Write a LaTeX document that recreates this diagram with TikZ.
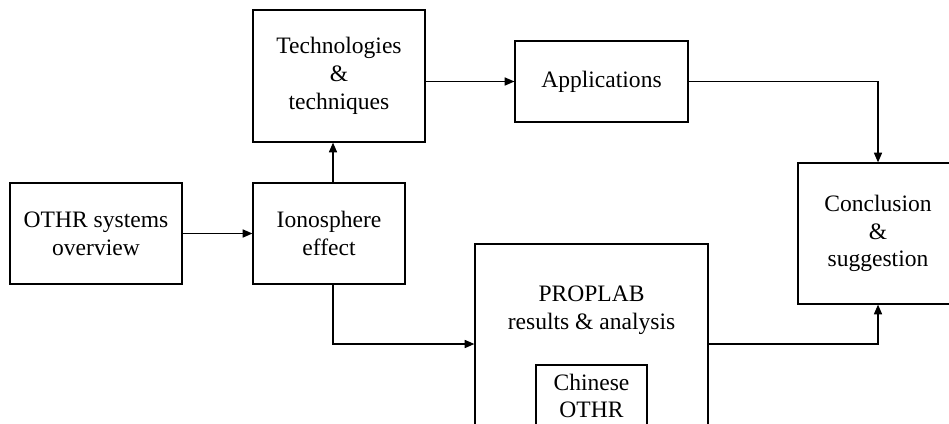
\documentclass[tikz,border=0pt]{standalone}
\usepackage{fontspec}
\setmainfont{Liberation Serif}
\usetikzlibrary{arrows.meta}

\tikzset{
  box/.style={draw, line width=0.7pt, align=center, inner sep=0pt,
              font=\fontsize{13.4}{15.8}\selectfont},
  arr/.style={line width=0.7pt, -{Triangle[length=5.5pt,width=4.6pt]}}
}

\begin{document}
\begin{tikzpicture}[x=0.02cm, y=-0.02cm]
      \useasboundingbox (0,0) rectangle (949,423);
      \clip (0,0) rectangle (949,423);

      \node[box, minimum width=172*0.02cm, minimum height=101*0.02cm] (O) at (96,233.5)   {OTHR systems\\overview};
      \node[box, minimum width=152*0.02cm, minimum height=101*0.02cm] (I) at (329,233.5)  {Ionosphere\\effect};
      \node[box, minimum width=172*0.02cm, minimum height=132*0.02cm] (T) at (339,76)     {Technologies\\\&\\techniques};
      \node[box, minimum width=173*0.02cm, minimum height=81*0.02cm]  (A) at (601.5,81.5) {Applications};
      \node[box, minimum width=160*0.02cm, minimum height=141*0.02cm] (C) at (878,233.5)  {Conclusion\\\&\\suggestion};
      \node[box, minimum width=233*0.02cm, minimum height=200*0.02cm] (P) at (591.5,344)  {};
      \node[box, draw=none] (PT) at (591.5,310) {PROPLAB\\results \& analysis};
      \node[box, minimum width=111*0.02cm, minimum height=62*0.02cm]  (X) at (591.5,396)  {Chinese\\OTHR};

      \path (O) edge[arr] (I);
      \path ([xshift=4*0.02cm]I.north) edge[arr] ([xshift=4*0.02cm]I.north |- T.south);
      \path (T.east |- A) edge[arr] (A);
      \draw[arr] (A) -| (C);
      \draw[arr] ([xshift=4*0.02cm]I.south) |- (P);
      \draw[arr] (P) -| (C);
    \end{tikzpicture}
\end{document}
